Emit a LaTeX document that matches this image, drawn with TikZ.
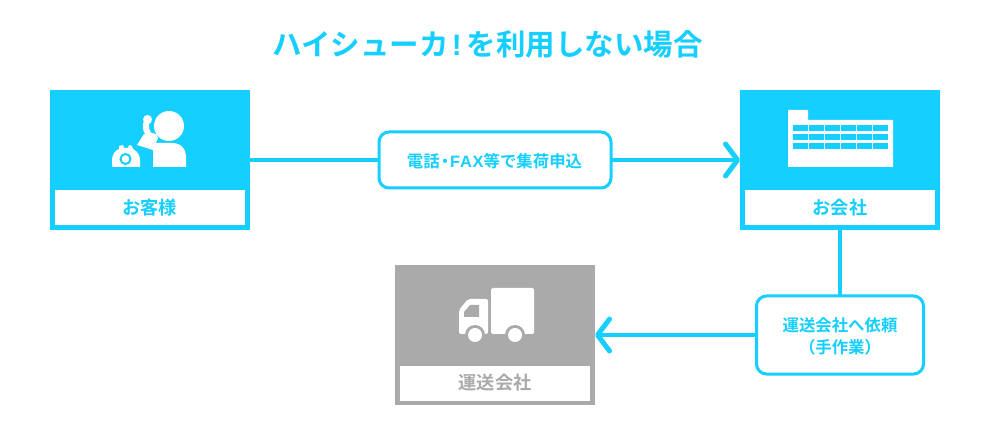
\documentclass[tikz,border=0pt]{standalone}
\usepackage{fontspec}
\usepackage{color}
\usetikzlibrary{arrows.meta}
\setmainfont{Noto Sans CJK JP}[BoldFont={Noto Sans CJK JP Bold}]
\newfontfamily\latinfont{Liberation Sans}[BoldFont={Liberation Sans Bold}]
\definecolor{sky}{HTML}{14CFFF}
\definecolor{lgray}{HTML}{AAAAAA}
\begin{document}
\begin{tikzpicture}[x=1pt,y=-1pt]
        \tikzstyle{every node}=[inner sep=0,outer sep=0,font=\bfseries]
        \tikzstyle{outer}=[minimum width=200pt,minimum height=140pt,fill=sky]
        \tikzstyle{label}=[minimum width=190pt,minimum height=35pt,fill=white,text=sky,font=\bfseries\fontsize{18.2}{20}\selectfont]
        \tikzstyle{memo}=[draw=sky,line width=3pt,rounded corners=10pt,fill=white,text=sky,align=center,font=\bfseries\fontsize{16.4}{22}\selectfont]
        \tikzstyle{line}=[draw=sky,line width=4.5pt]
        \tikzstyle{head}=[-{Straight Barb[length=12pt,width=32pt,line width=5pt,round]}]
            \useasboundingbox (0,0) rectangle (990,435);

            \node[text=sky,font=\bfseries\fontsize{29.5}{32}\selectfont] (title) at (487.5,44) {ハイシューカ\kern3pt{\latinfont !}\kern5pt を利用しない場合};

            \node[outer] (kyaku) at (150,160) {};
            \node[outer] (kaisha) at (840,160) {};
            \node[outer,fill=lgray] (unso) at (495,335) {};
            \node[label] (kyakutxt) at (149.5,208) {お客様};
            \node[label] (kaishatxt) at (840,208) {お会社};
            \node[label,text=lgray] (unsotxt) at (495,383) {運送会社};

            \node[memo,minimum width=232pt,minimum height=56pt] (denwa) at (495,160) {};
            \node[text=sky,font=\bfseries\fontsize{16.4}{22}\selectfont] (denwatxt) at (494.5,161) {電話\kern-3pt・\kern-3pt{\latinfont\addfontfeature{LetterSpace=5}FAX}等で集荷申込};
            \node[memo,minimum width=167pt,minimum height=78pt] (irai) at (840,335) {};
            \node[text=sky,align=center,font=\bfseries\fontsize{16.4}{22}\selectfont] (iraitxt) at (840,336.5) {運送会社へ依頼\\（手作業）};

            \draw[line] (kyaku) -- (denwa);
            \draw[line,head] (denwa) -- (kaisha);
            \draw[line] (kaisha) -- (irai);
            \draw[line,head] (irai) -- (unso);

            % person with telephone
            \fill[white] (169,126) circle (15);
            \fill[white] (153,167) -- (153,143) -- (172,143) .. controls (181,143) and (186,149) .. (186,156) -- (186,167) -- cycle;
            \fill[white] (137,145) -- (144,134) -- (150,136) -- (158,145) -- (153,150) -- cycle;
            \draw[white,line width=6pt,line cap=round] (147.5,120) .. controls (144,126) and (146,134) .. (153,138);
            \fill[white] (147.5,119.5) circle (4.5);
            \fill[white] (153,138) circle (5);
            \fill[white] (112,167) -- (112,160) .. controls (112,154) and (116,150) .. (119,149) -- (119,146) -- (123,145) -- (124,148) -- (128,148) -- (129,145) -- (132,146) -- (133,149) .. controls (137,151) and (140,155) .. (140,160) -- (140,167) -- cycle;
            \draw[sky,line width=2pt] (125.5,159) circle (5);

            % office building
            \fill[white] (788,110) -- (808,110) -- (808,120) -- (893,120) -- (893,167) -- (788,167) -- cycle;
            \foreach \y in {125,134,143}
                \foreach \x in {793,809,825,841,857,873}
                    \fill[sky] (\x,\y) rectangle (\x+15,\y+6);

            % truck
            \fill[white,rounded corners=1.5pt] (491,288) rectangle (534,334);
            \fill[white,rounded corners=2pt] (459,334) -- (459,310) -- (468,299) -- (488,299) -- (488,334) -- cycle;
            \fill[lgray] (464,317) -- (464,312) -- (470,305) -- (479,305) -- (479,317) -- cycle;
            \fill[lgray] (475,335) circle (10);
            \fill[lgray] (515,335) circle (10);
            \fill[white] (475,335) circle (7);
            \fill[white] (515,335) circle (7);
        \end{tikzpicture}
\end{document}
